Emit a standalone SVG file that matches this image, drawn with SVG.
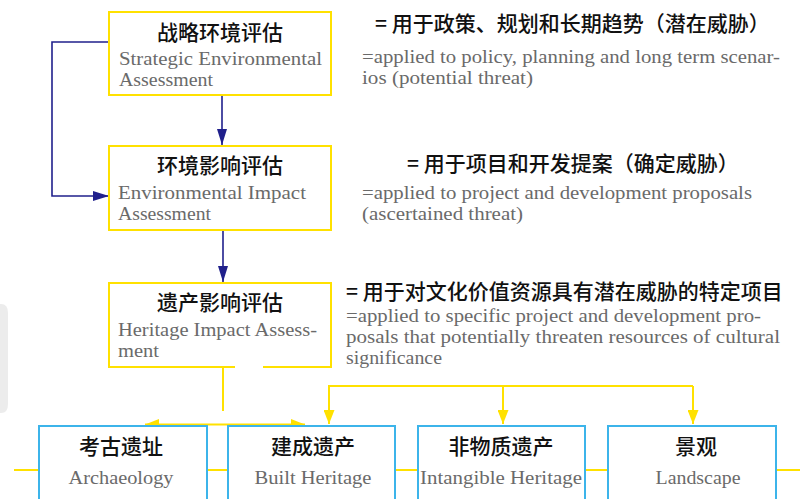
<svg xmlns="http://www.w3.org/2000/svg" width="800" height="499" viewBox="0 0 800 499">
  <style>
    .ybox { fill: #ffffff; stroke: #ffe100; stroke-width: 2; }
    .bbox { fill: #ffffff; stroke: #3cb4ea; stroke-width: 2; }
    .cn { font-family: "Noto Sans CJK SC", "Noto Sans", sans-serif; font-size: 21px; font-weight: 500; fill: #111111; }
    .en { font-family: "Liberation Serif", "DejaVu Serif", serif; font-size: 19px; fill: #6a6a6a; }
    .blue { fill: none; stroke: #20208c; stroke-width: 1.6; }
    .yel { fill: none; stroke: #ffe100; stroke-width: 2; }
  </style>
  <defs>
    <marker id="ab" markerUnits="userSpaceOnUse" markerWidth="16" markerHeight="10" refX="16" refY="5" orient="auto">
      <path d="M0,0 L16,5 L0,10 Z" fill="#20208c"/>
    </marker>
    <marker id="ay" markerUnits="userSpaceOnUse" markerWidth="14" markerHeight="11" refX="14" refY="5.5" orient="auto">
      <path d="M0,0 L14,5.5 L0,11 Z" fill="#ffe100"/>
    </marker>
    <marker id="ays" markerUnits="userSpaceOnUse" markerWidth="14" markerHeight="11" refX="0" refY="5.5" orient="auto">
      <path d="M14,0 L0,5.5 L14,11 Z" fill="#ffe100"/>
    </marker>
  </defs>
  <rect width="800" height="499" fill="#ffffff"/>
  <path d="M0,304 H1 Q8,304 8,313 V404 Q8,413 1,413 H0 Z" fill="#ececec"/>

  <g id="connectors">
    <path class="blue" d="M109,42 H52 V196 H109" marker-end="url(#ab)"/>
    <path class="blue" d="M222,96 V145" marker-end="url(#ab)"/>
    <path class="blue" d="M223,231 V282" marker-end="url(#ab)"/>
    <path class="yel" d="M223,368 V411"/>
    <path class="yel" d="M145,424.5 H305" marker-start="url(#ays)" marker-end="url(#ay)"/>
    <path class="yel" d="M693,386 H329 V424" marker-end="url(#ay)"/>
    <path class="yel" d="M503,386 V424" marker-end="url(#ay)"/>
    <path class="yel" d="M693,386 V424" marker-end="url(#ay)"/>
    <path class="yel" d="M14,470 H800"/>
  </g>

  <g id="sea">
    <rect class="ybox" x="109" y="12" width="222" height="83"/>
    <text class="cn" x="220" y="40" text-anchor="middle">战略环境评估</text>
    <text class="en" x="119" y="65" textLength="203" lengthAdjust="spacingAndGlyphs">Strategic Environmental</text>
    <text class="en" x="119" y="86" textLength="94" lengthAdjust="spacingAndGlyphs">Assessment</text>
  </g>
  <g id="eia">
    <rect class="ybox" x="109" y="146" width="222" height="84"/>
    <text class="cn" x="220" y="173" text-anchor="middle">环境影响评估</text>
    <text class="en" x="118" y="199" textLength="188" lengthAdjust="spacingAndGlyphs">Environmental Impact</text>
    <text class="en" x="118" y="220" textLength="93" lengthAdjust="spacingAndGlyphs">Assessment</text>
  </g>
  <g id="hia">
    <rect class="ybox" x="109" y="283" width="222" height="84"/>
    <line x1="235" y1="367" x2="263" y2="367" stroke="#ffffff" stroke-width="3"/>
    <text class="cn" x="220" y="310" text-anchor="middle">遗产影响评估</text>
    <text class="en" x="118" y="336" textLength="199" lengthAdjust="spacingAndGlyphs">Heritage Impact Assess-</text>
    <text class="en" x="118" y="357" textLength="41" lengthAdjust="spacingAndGlyphs">ment</text>
  </g>

  <g id="note-sea">
    <text class="cn" x="375" y="31">= 用于政策、规划和长期趋势（潜在威胁）</text>
    <text class="en" x="362" y="63" textLength="418" lengthAdjust="spacingAndGlyphs">=applied to policy, planning and long term scenar-</text>
    <text class="en" x="362" y="84" textLength="171" lengthAdjust="spacingAndGlyphs">ios (potential threat)</text>
  </g>
  <g id="note-eia">
    <text class="cn" x="407" y="171">= 用于项目和开发提案（确定威胁）</text>
    <text class="en" x="362" y="199" textLength="390" lengthAdjust="spacingAndGlyphs">=applied to project and development proposals</text>
    <text class="en" x="362" y="220" textLength="161" lengthAdjust="spacingAndGlyphs">(ascertained threat)</text>
  </g>
  <g id="note-hia">
    <text class="cn" x="346" y="299">= 用于对文化价值资源具有潜在威胁的特定项目</text>
    <text class="en" x="346" y="322" textLength="415" lengthAdjust="spacingAndGlyphs">=applied to specific project and development pro-</text>
    <text class="en" x="346" y="343" textLength="434" lengthAdjust="spacingAndGlyphs">posals that potentially threaten resources of cultural</text>
    <text class="en" x="346" y="364" textLength="96" lengthAdjust="spacingAndGlyphs">significance</text>
  </g>

  <g id="archaeology">
    <rect class="bbox" x="39" y="426" width="168" height="90"/>
    <text class="cn" x="121" y="454" text-anchor="middle">考古遗址</text>
    <text class="en" x="121" y="484" text-anchor="middle" textLength="105" lengthAdjust="spacingAndGlyphs">Archaeology</text>
  </g>
  <g id="built">
    <rect class="bbox" x="228" y="426" width="167" height="90"/>
    <text class="cn" x="313" y="454" text-anchor="middle">建成遗产</text>
    <text class="en" x="313" y="484" text-anchor="middle" textLength="117" lengthAdjust="spacingAndGlyphs">Built Heritage</text>
  </g>
  <g id="intangible">
    <rect class="bbox" x="418" y="426" width="167" height="90"/>
    <text class="cn" x="501" y="454" text-anchor="middle">非物质遗产</text>
    <text class="en" x="501" y="484" text-anchor="middle" textLength="162" lengthAdjust="spacingAndGlyphs">Intangible Heritage</text>
  </g>
  <g id="landscape">
    <rect class="bbox" x="608" y="426" width="168" height="90"/>
    <text class="cn" x="696" y="454" text-anchor="middle">景观</text>
    <text class="en" x="698" y="484" text-anchor="middle" textLength="85" lengthAdjust="spacingAndGlyphs">Landscape</text>
  </g>
</svg>
